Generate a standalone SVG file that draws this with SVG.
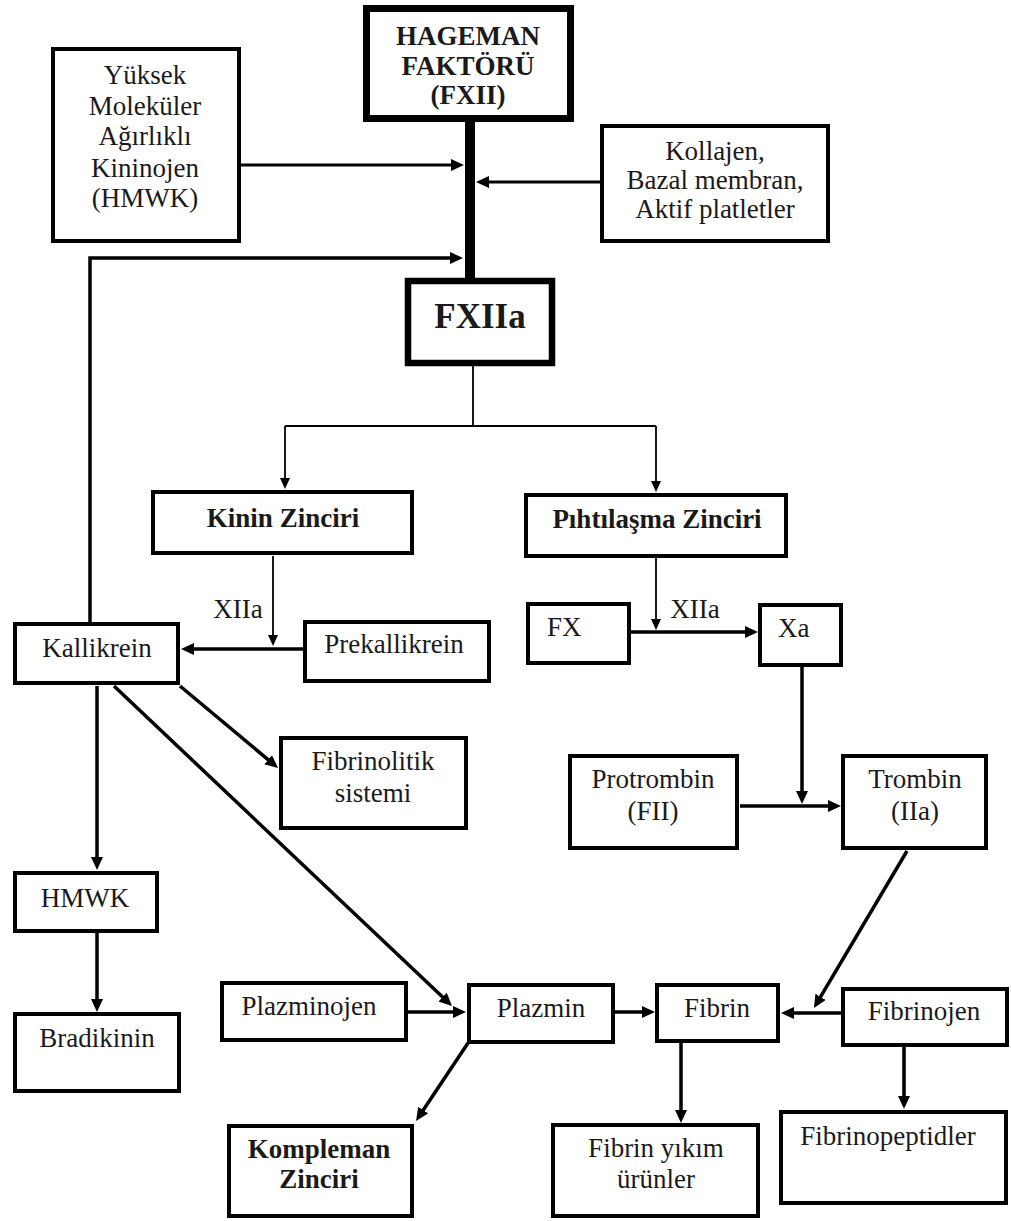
<svg xmlns="http://www.w3.org/2000/svg" width="1011" height="1221" viewBox="0 0 1011 1221">
  <style>
    text { font-family: "Liberation Serif", "Times New Roman", serif; font-size: 27px; fill: #1a1a1a; text-anchor: middle; }
    .b { font-weight: bold; }
    .big { font-size: 35px; font-weight: bold; }
    .l { text-anchor: start; }
    .box { fill: #fff; stroke: #000; stroke-width: 4; }
    .heavy { stroke-width: 7; }
    .mid { stroke-width: 6.5; }
    .c { fill: none; stroke: #000; stroke-width: 3.5; marker-end: url(#ah); }
    .t { fill: none; stroke: #000; stroke-width: 1.8; marker-end: url(#ahs); }
    .plain { fill: none; stroke: #000; stroke-width: 1.8; }
  </style>
  <defs>
    <marker id="ah" markerUnits="userSpaceOnUse" markerWidth="13" markerHeight="12" refX="8" refY="6" orient="auto">
      <path d="M0,0 L13,6 L0,12 z" fill="#000"/>
    </marker>
    <marker id="ahs" markerUnits="userSpaceOnUse" markerWidth="11" markerHeight="10" refX="8" refY="5" orient="auto">
      <path d="M0,0 L11,5 L0,10 z" fill="#000"/>
    </marker>
  </defs>
  <rect width="1011" height="1221" fill="#fff"/>

  <g id="connectors">
    <!-- activation trunk from FXII to FXIIa -->
    <line x1="470" y1="120" x2="470" y2="280" stroke="#000" stroke-width="10"/>
    <path class="c" d="M241,165 H459" style="stroke-width:3"/>
    <path class="c" d="M600,182 H481" style="stroke-width:3"/>
    <path class="c" d="M90,622 V258 H458"/>
    <!-- FXIIa branches -->
    <path class="plain" d="M473,366 V426 M285,426 H656"/>
    <path class="t" d="M285,426 V486"/>
    <path class="t" d="M656,426 V489"/>
    <!-- kinin chain -->
    <path class="t" d="M273,556 V643"/>
    <path class="c" d="M303,649 H186"/>
    <path class="c" d="M180,686 L274.2,764.8"/>
    <path class="c" d="M114,686 L448.4,1002.6"/>
    <path class="c" d="M97,686 V865"/>
    <path class="c" d="M97,933 V1007"/>
    <!-- coagulation chain -->
    <path class="t" d="M656,558 V627"/>
    <path class="c" d="M631,632 H753"/>
    <path class="c" d="M802,667 V799"/>
    <path class="c" d="M740,806 H836"/>
    <path class="c" d="M907,851 L816.5,1003.7"/>
    <!-- fibrin / plasmin -->
    <path class="c" d="M408,1012 H461"/>
    <path class="c" d="M615,1012 H650"/>
    <path class="c" d="M841,1013 H786"/>
    <path class="c" d="M468,1043 L418.8,1116.8"/>
    <path class="c" d="M681,1043 V1118"/>
    <path class="c" d="M904,1047 V1104"/>
    <!-- edge labels -->
    <text x="238" y="618">XIIa</text>
    <text x="695" y="618">XIIa</text>
  </g>

  <g id="hageman">
    <rect class="box heavy" x="366.5" y="8.5" width="204" height="110"/>
    <text class="b" x="468" y="45">HAGEMAN</text>
    <text class="b" x="468" y="75">FAKTÖRÜ</text>
    <text class="b" x="468" y="104">(FXII)</text>
  </g>
  <g id="hmwk-kininojen">
    <rect class="box" x="53" y="49" width="186" height="192"/>
    <text x="145" y="84">Yüksek</text>
    <text x="145" y="115">Moleküler</text>
    <text x="145" y="145">Ağırlıklı</text>
    <text x="145" y="177">Kininojen</text>
    <text x="145" y="207">(HMWK)</text>
  </g>
  <g id="kollajen">
    <rect class="box" x="602" y="126" width="226" height="115"/>
    <text x="715" y="160">Kollajen,</text>
    <text x="715" y="189">Bazal membran,</text>
    <text x="715" y="218">Aktif platletler</text>
  </g>
  <g id="fxiia">
    <rect class="box mid" x="408" y="281" width="144" height="82"/>
    <text class="big" x="480" y="328">FXIIa</text>
  </g>
  <g id="kinin-zinciri">
    <rect class="box" x="153" y="492" width="259" height="61"/>
    <text class="b" x="283" y="527">Kinin Zinciri</text>
  </g>
  <g id="pihtilasma-zinciri">
    <rect class="box" x="526" y="495" width="260" height="61"/>
    <text class="b" x="657" y="528">Pıhtılaşma Zinciri</text>
  </g>
  <g id="kallikrein">
    <rect class="box" x="15" y="624" width="163" height="59"/>
    <text x="97" y="657">Kallikrein</text>
  </g>
  <g id="prekallikrein">
    <rect class="box" x="305" y="622" width="184" height="59"/>
    <text x="394" y="653">Prekallikrein</text>
  </g>
  <g id="fx">
    <rect class="box" x="528" y="604" width="101" height="59"/>
    <text class="l" x="547" y="636">FX</text>
  </g>
  <g id="xa">
    <rect class="box" x="760" y="605" width="81" height="60"/>
    <text class="l" x="778" y="637">Xa</text>
  </g>
  <g id="fibrinolitik">
    <rect class="box" x="281" y="738" width="185" height="90"/>
    <text x="373" y="770">Fibrinolitik</text>
    <text x="373" y="802">sistemi</text>
  </g>
  <g id="protrombin">
    <rect class="box" x="570" y="756" width="167" height="92"/>
    <text x="653" y="788">Protrombin</text>
    <text x="653" y="820">(FII)</text>
  </g>
  <g id="trombin">
    <rect class="box" x="843" y="756" width="143" height="92"/>
    <text x="915" y="788">Trombin</text>
    <text x="915" y="820">(IIa)</text>
  </g>
  <g id="hmwk">
    <rect class="box" x="15" y="873" width="142" height="58"/>
    <text x="85" y="907">HMWK</text>
  </g>
  <g id="bradikinin">
    <rect class="box" x="15" y="1014" width="164" height="77"/>
    <text x="97" y="1047">Bradikinin</text>
  </g>
  <g id="plazminojen">
    <rect class="box" x="222" y="983" width="184" height="57"/>
    <text x="309" y="1015">Plazminojen</text>
  </g>
  <g id="plazmin">
    <rect class="box" x="469" y="985" width="144" height="57"/>
    <text x="541" y="1017">Plazmin</text>
  </g>
  <g id="fibrin">
    <rect class="box" x="657" y="985" width="121" height="56"/>
    <text x="717" y="1017">Fibrin</text>
  </g>
  <g id="fibrinojen">
    <rect class="box" x="843" y="989" width="164" height="56"/>
    <text x="924" y="1020">Fibrinojen</text>
  </g>
  <g id="kompleman-zinciri">
    <rect class="box" x="229" y="1126" width="183" height="90"/>
    <text class="b" x="319" y="1158">Kompleman</text>
    <text class="b" x="319" y="1188">Zinciri</text>
  </g>
  <g id="fibrin-yikim">
    <rect class="box" x="553" y="1125" width="205" height="91"/>
    <text x="656" y="1157">Fibrin yıkım</text>
    <text x="656" y="1188">ürünler</text>
  </g>
  <g id="fibrinopeptidler">
    <rect class="box" x="781" y="1112" width="225" height="91"/>
    <text x="888" y="1145">Fibrinopeptidler</text>
  </g>
</svg>
